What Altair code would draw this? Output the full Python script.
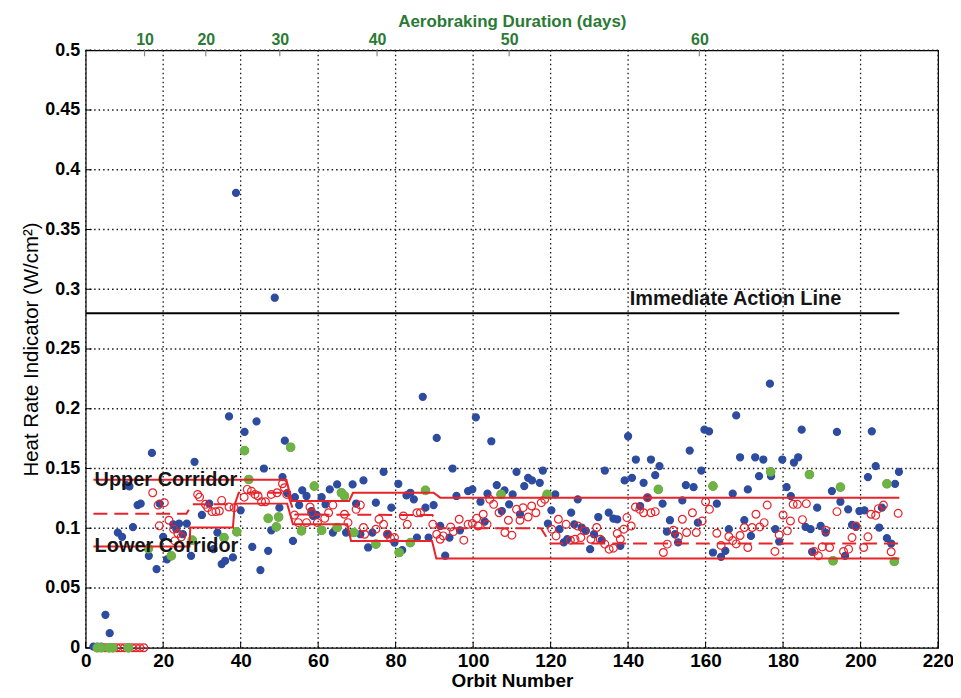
import altair as alt
import pandas as pd

# ---------------- data ----------------
series_names = ["S/C Measured (using 39s mean)",
                "AADS Predicted (Before Maneuver)",
                "Maneuver Commanded"]

measured = [
    (2, 0.001), (3, 0.001), (4, 0.001), (5.1, 0.0275), (6.2, 0.0122), (8.3, 0.0964), (9.4, 0.0928),
    (10.5, 0.136), (11.3, 0.135), (12.2, 0.101), (13.4, 0.1194), (14.2, 0.1206), (16.3, 0.0769),
    (17.1, 0.163), (18.3, 0.0658), (19.1, 0.1206), (20.0, 0.0928), (21.0, 0.074), (22.6, 0.1033),
    (23.4, 0.0992), (24.1, 0.1039), (25.1, 0.095), (26.1, 0.1039), (27.2, 0.0769), (28.1, 0.1556),
    (30.0, 0.1111), (31.9, 0.1206), (33.0, 0.0825), (34.0, 0.0964), (35.1, 0.07), (36.0, 0.0728),
    (37.0, 0.1936), (38.0, 0.0756), (38.8, 0.3807), (40.0, 0.115), (41.0, 0.1806), (43.0, 0.0844),
    (44.1, 0.1894), (45.1, 0.065), (46.0, 0.15), (47.1, 0.0811), (47.9, 0.0983), (48.8, 0.2929),
    (50.0, 0.1172), (50.8, 0.1428), (51.4, 0.1733), (52.0, 0.1294), (53.5, 0.0894), (54.0, 0.126),
    (55.1, 0.1194), (55.9, 0.1317), (57.0, 0.127), (58.3, 0.1144), (58.7, 0.1103), (59.6, 0.1111),
    (60.9, 0.126), (61.9, 0.12), (63.0, 0.1325), (63.8, 0.0964), (64.9, 0.1367), (67.2, 0.0964),
    (68.9, 0.1367), (69.8, 0.1206), (70.9, 0.095), (71.7, 0.14), (72.9, 0.0839), (74.0, 0.0964),
    (74.9, 0.1214), (76.9, 0.1472), (77.9, 0.095), (78.9, 0.1172), (79.7, 0.088), (80.7, 0.1372),
    (81.7, 0.0817), (82.8, 0.1275), (83.8, 0.1297), (84.7, 0.1242), (85.5, 0.0922), (87.0, 0.21),
    (87.7, 0.1172), (88.5, 0.0922), (89.8, 0.1194), (90.6, 0.1756), (91.5, 0.1019), (92.8, 0.077),
    (93.9, 0.0922), (94.7, 0.15), (95.7, 0.127), (96.6, 0.0983), (98.7, 0.1311), (99.8, 0.1325),
    (100.7, 0.1928), (101.9, 0.1222), (103.0, 0.1056), (103.7, 0.1289), (104.7, 0.1728),
    (106.1, 0.1361), (107.4, 0.1144), (108.1, 0.1317), (109.3, 0.12), (110.2, 0.1283),
    (111.2, 0.1472), (112.1, 0.1117), (113.2, 0.1353), (114.2, 0.1422), (115.2, 0.14),
    (117.2, 0.138), (118.0, 0.1483), (119.3, 0.1039), (120.2, 0.115), (121.2, 0.1283),
    (122.3, 0.0992), (123.4, 0.0881), (124.3, 0.0908), (125.3, 0.113), (126.1, 0.1033),
    (127.0, 0.1242), (128.0, 0.1006), (129.1, 0.0978), (130.2, 0.0825), (131.2, 0.095),
    (132.3, 0.1094), (133.2, 0.09), (134.0, 0.1483), (135.0, 0.113), (136.2, 0.1081),
    (137.2, 0.1075), (138.0, 0.0853), (139.1, 0.14), (140.0, 0.177), (141.0, 0.1422),
    (142.0, 0.1575), (143.1, 0.1186), (144.0, 0.138), (145.0, 0.1256), (145.9, 0.1575),
    (147.0, 0.1444), (148.1, 0.152), (148.9, 0.1206), (150.0, 0.0972), (150.8, 0.1067),
    (152.1, 0.095), (152.9, 0.0881), (154.0, 0.1233), (154.9, 0.1361), (155.9, 0.165),
    (156.9, 0.1344), (158.0, 0.1047), (158.9, 0.1483), (159.7, 0.1825), (160.9, 0.1811),
    (161.9, 0.0797), (162.9, 0.1206), (164.0, 0.0761), (165.1, 0.0811), (166.0, 0.0992),
    (167.0, 0.1289), (167.9, 0.1944), (168.9, 0.1594), (170.0, 0.1067), (170.9, 0.1325),
    (171.7, 0.0936), (172.8, 0.1594), (173.8, 0.1436), (174.9, 0.1575), (176.6, 0.221),
    (176.9, 0.1436), (178.0, 0.0992), (179.0, 0.0889), (179.8, 0.1575), (180.9, 0.1344),
    (182.0, 0.1269), (182.8, 0.155), (183.9, 0.1594), (184.8, 0.1825), (185.8, 0.1011),
    (187.1, 0.0992), (187.5, 0.0803), (188.8, 0.1172), (189.7, 0.1019), (191.0, 0.0964),
    (192.6, 0.1311), (193.9, 0.1806), (194.8, 0.1222), (196.0, 0.0769), (196.8, 0.1158),
    (197.8, 0.1028), (198.8, 0.1011), (199.7, 0.1144), (201.0, 0.115), (201.9, 0.1428),
    (202.9, 0.1811), (203.9, 0.152), (204.8, 0.1006), (205.5, 0.1172), (206.8, 0.0917),
    (207.9, 0.0872), (208.9, 0.1372), (209.9, 0.1472),
]

predicted = [
    (5, 0), (6, 0), (7, 0), (8, 0), (9, 0), (10, 0), (11, 0), (12, 0), (13, 0), (14, 0), (15, 0),
    (17.3, 0.1297), (18.7, 0.1194), (19.0, 0.102), (20.3, 0.1214), (21.5, 0.1067), (22.7, 0.0992),
    (23.0, 0.0894), (23.8, 0.0956), (24.7, 0.0928), (28.9, 0.1283), (29.4, 0.1261), (30.9, 0.12),
    (31.5, 0.1172), (32.6, 0.1139), (33.6, 0.1139), (34.5, 0.1144), (35.1, 0.1233), (37.0, 0.1178),
    (38.3, 0.1172), (40.9, 0.126), (41.7, 0.1325), (42.8, 0.131), (43.7, 0.1283), (44.5, 0.127),
    (45.4, 0.1222), (46.4, 0.1222), (47.9, 0.1283), (49.4, 0.1297), (50.8, 0.1372), (51.3, 0.1339),
    (51.9, 0.1283), (53.9, 0.111), (54.9, 0.1047), (57.0, 0.1047), (57.9, 0.1178), (58.3, 0.113),
    (59.8, 0.1047), (61.7, 0.1083), (62.7, 0.113), (63.8, 0.1194), (66.8, 0.1117), (67.7, 0.1047),
    (69.8, 0.1158), (70.9, 0.1194), (71.7, 0.1006), (72.0, 0.095), (74.9, 0.0992), (75.7, 0.1075),
    (76.9, 0.1033), (77.9, 0.095), (78.7, 0.0917), (79.7, 0.0922), (82.0, 0.1103), (83.0, 0.1033),
    (85.5, 0.113), (86.4, 0.113), (89.6, 0.1033), (90.6, 0.095), (91.5, 0.0908), (92.3, 0.0936),
    (94.2, 0.1011), (94.9, 0.0972), (96.4, 0.1075), (97.6, 0.09), (98.7, 0.1033), (99.8, 0.1039),
    (100.9, 0.1083), (101.3, 0.1019), (102.6, 0.1117), (103.6, 0.1033), (104.3, 0.1242),
    (105.3, 0.12), (106.7, 0.113), (108.2, 0.0964), (109.1, 0.1067), (110.0, 0.0942),
    (111.2, 0.1158), (112.1, 0.1067), (112.9, 0.1172), (114.2, 0.1094), (115.1, 0.1186),
    (116.2, 0.113), (117.6, 0.1214), (118.5, 0.1242), (120.3, 0.0992), (121.4, 0.0936),
    (122.0, 0.1075), (124.0, 0.1033), (125.1, 0.09), (126.3, 0.0908), (127.0, 0.1019),
    (127.8, 0.0922), (128.7, 0.0978), (130.4, 0.0908), (131.9, 0.1006), (132.8, 0.0908),
    (134.0, 0.0867), (135.1, 0.0825), (136.2, 0.0833), (137.2, 0.0956), (138.0, 0.0908),
    (138.9, 0.0992), (139.7, 0.1089), (140.8, 0.1019), (141.9, 0.1178), (143.0, 0.1158),
    (144.0, 0.113), (145.0, 0.1256), (145.9, 0.113), (147.0, 0.1139), (149.1, 0.0797),
    (150.1, 0.0867), (151.7, 0.0983), (153.0, 0.0928), (154.0, 0.1075), (155.1, 0.0964),
    (156.6, 0.113), (157.6, 0.0964), (159.1, 0.1061), (160.0, 0.1222), (161.0, 0.1158),
    (162.9, 0.0958), (164.0, 0.0856), (166.0, 0.0931), (167.0, 0.0897), (167.9, 0.0869),
    (168.9, 0.0939), (170.0, 0.1006), (170.9, 0.0839), (172.0, 0.1006), (173.0, 0.1117),
    (174.0, 0.1011), (175.1, 0.1047), (175.9, 0.1194), (177.9, 0.0806), (179.0, 0.0944),
    (180.0, 0.1111), (181.1, 0.0978), (181.9, 0.1061), (182.6, 0.12), (183.7, 0.12),
    (185.0, 0.1072), (186.0, 0.1206), (188.0, 0.0806), (189.1, 0.0769), (190.1, 0.0844),
    (191.0, 0.0983), (192.0, 0.0839), (193.9, 0.1139), (195.6, 0.0806), (196.9, 0.0825),
    (197.8, 0.0922), (198.8, 0.1019), (200.8, 0.0839), (201.9, 0.0928), (202.7, 0.1117),
    (203.9, 0.1108), (204.6, 0.1164), (205.9, 0.1194), (207.9, 0.0803), (209.7, 0.1125),
]

maneuver = [
    (3, 0), (4, 0), (6, 0), (7, 0), (11, 0), (16.2, 0.083), (22.1, 0.0769), (27.5, 0.09),
    (35.7, 0.0922), (39.0, 0.097), (41.0, 0.165), (42.1, 0.1408), (47.1, 0.1083), (49.2, 0.1011),
    (49.8, 0.1094), (52.9, 0.1678), (55.7, 0.0978), (59.0, 0.1353), (60.9, 0.0983), (64.9, 0.1006),
    (66.0, 0.1297), (66.8, 0.127), (69.2, 0.0964), (74.9, 0.0867), (80.9, 0.0797), (83.8, 0.088),
    (87.7, 0.1317), (107.2, 0.1283), (119.1, 0.1283), (147.8, 0.1325), (161.9, 0.1353),
    (176.8, 0.1472), (186.8, 0.145), (192.9, 0.0728), (194.8, 0.1344), (206.8, 0.1372),
    (208.7, 0.0722),
]

upper_orbit = [2, 51.8, 53.2, 68, 69, 89.8, 91.5, 210]
upper_hri = [0.1406, 0.1406, 0.1228, 0.1228, 0.1297, 0.1297, 0.1256, 0.1256]
lower_orbit = [2, 26.8, 27, 38, 38.5, 52, 53.5, 67.5, 68.5, 89.4, 90.5, 210]
lower_hri = [0.0847, 0.0847, 0.1006, 0.1006, 0.1206, 0.1206, 0.1033, 0.1033,
             0.0894, 0.0894, 0.0747, 0.0747]
target_orbit = [2, 26, 27.5, 38.5, 39.5, 52, 54, 89.5, 91, 117.5, 120, 210]
target_hri = [0.1122, 0.1122, 0.12, 0.12, 0.1297, 0.1297, 0.1115, 0.111,
              0.1, 0.1, 0.0872, 0.0872]
action_orbit = [0, 210]
action_hri = [0.28, 0.28]

note_text = ["Upper Corridor", "Lower Corridor", "Immediate Action Line"]
note_orbit = [2.3, 2.3, 140.4]
note_hri = [0.1406, 0.0847, 0.2915]

x_ticks = [0, 20, 40, 60, 80, 100, 120, 140, 160, 180, 200, 220]
y_ticks = [0, 0.05, 0.1, 0.15, 0.2, 0.25, 0.3, 0.35, 0.4, 0.45, 0.5]
day_labels = ["10", "20", "30", "40", "50", "60"]
day_orbits = [15.2, 31.0, 50.1, 75.2, 109.3, 158.4]

# ---------------- styling ----------------
BLUE = "#2d4b9f"
RED = "#e8232a"
GREEN = "#6cb445"
DKGREEN = "#2b7a35"
FONT = "Liberation Sans, Arial, Helvetica, sans-serif"
NARROW = "Liberation Sans Narrow, Liberation Sans, Arial, sans-serif"
PLOT_W, PLOT_H, TICK = 856, 600, 6

rows = []
for o, v in measured:
    rows.append({"orbit": o, "hri": v, "series": series_names[0]})
for o, v in predicted + maneuver:
    rows.append({"orbit": o, "hri": v, "series": series_names[1]})
for o, v in maneuver:
    rows.append({"orbit": o, "hri": v, "series": series_names[2]})
pts = pd.DataFrame(rows)

xscale = alt.Scale(domain=[0, 220], nice=False, zero=False)
yscale = alt.Scale(domain=[0, 0.5], nice=False)
X_NOAXIS = alt.X("orbit:Q", scale=xscale, axis=None)
Y_NOAXIS = alt.Y("hri:Q", scale=yscale, axis=None)

# dotted grid drawn from the tick lists
grid_dash = [1.5, 3]
xgrid = alt.Chart(pd.DataFrame({"orbit": x_ticks})).mark_rule(
    color="#1a1a1a", strokeDash=grid_dash, strokeWidth=1.3, opacity=1
).encode(x=X_NOAXIS)
ygrid = alt.Chart(pd.DataFrame({"hri": y_ticks})).mark_rule(
    color="#1a1a1a", strokeDash=grid_dash, strokeWidth=1.3, opacity=1
).encode(y=Y_NOAXIS)

# inward tick marks (MATLAB style)
xtick_marks = alt.Chart(pd.DataFrame({"orbit": x_ticks})).mark_rule(
    color="black", strokeWidth=1
).encode(x=X_NOAXIS, y=alt.value(PLOT_H), y2=alt.value(PLOT_H - TICK))
ytick_marks = alt.Chart(pd.DataFrame({"hri": y_ticks})).mark_rule(
    color="black", strokeWidth=1
).encode(y=Y_NOAXIS, x=alt.value(0), x2=alt.value(TICK))
day_tick_marks = alt.Chart(pd.DataFrame({"orbit": day_orbits})).mark_rule(
    color="#8a8a8a", strokeWidth=1.2
).encode(x=X_NOAXIS, y=alt.value(0), y2=alt.value(TICK))

# axes layer (bottom x and left y)
axes_df = pd.DataFrame({"orbit": [0, 220], "hri": [0, 0.5]})
axes = alt.Chart(axes_df).mark_point(opacity=0, size=1).encode(
    x=alt.X("orbit:Q", scale=xscale,
            axis=alt.Axis(orient="bottom", values=x_ticks, title="Orbit Number", grid=False,
                          ticks=False, labelFlush=False, labelFont=NARROW, labelFontSize=19,
                          labelFontWeight="bold", labelPadding=4, labelColor="black",
                          titleFont=FONT, titleFontSize=19, titleFontWeight="bold",
                          titleColor="black", titlePadding=1, domain=False)),
    y=alt.Y("hri:Q", scale=yscale,
            axis=alt.Axis(orient="left", values=y_ticks, labelExpr="toString(datum.value)",
                          title="Heat Rate Indicator (W/cm²)", grid=False, ticks=False,
                          labelFlush=False, labelFont=FONT, labelFontSize=18,
                          labelFontWeight="bold", labelPadding=6, labelColor="black",
                          titleFont=NARROW, titleFontSize=20.5, titleFontWeight="normal",
                          titleColor="black", titlePadding=3, domain=False)),
)

legend_kw = dict(orient="none", legendX=457, legendY=8, padding=6, rowPadding=3,
                 labelFontSize=20.5, labelFont=FONT, labelFontWeight="bold", labelLimit=420,
                 labelOffset=20, symbolSize=36, symbolStrokeWidth=1.2, strokeColor="black",
                 fillColor="white", symbolType="circle", labelColor="black")

points = alt.Chart(pts).mark_point(filled=True, shape="circle", strokeWidth=1.2,
                                   opacity=1).encode(
    x=X_NOAXIS,
    y=Y_NOAXIS,
    fill=alt.Fill("series:N", title=None,
                  scale=alt.Scale(domain=series_names, range=[BLUE, "transparent", GREEN]),
                  legend=alt.Legend(**legend_kw)),
    stroke=alt.Stroke("series:N", title=None,
                      scale=alt.Scale(domain=series_names, range=[BLUE, RED, GREEN]),
                      legend=alt.Legend(**legend_kw)),
    size=alt.Size("series:N", scale=alt.Scale(domain=series_names, range=[50, 72, 50]),
                  legend=None),
)


def step_line(xs, ys, color, dash=None, width=2.0):
    df = pd.DataFrame({"orbit": xs, "hri": ys, "i": list(range(len(xs)))})
    kw = dict(color=color, strokeWidth=width)
    if dash:
        kw["strokeDash"] = dash
    return alt.Chart(df).mark_line(**kw).encode(
        x=X_NOAXIS, y=Y_NOAXIS, order=alt.Order("i:Q"),
    )


upper = step_line(upper_orbit, upper_hri, RED)
lower = step_line(lower_orbit, lower_hri, RED)
target = step_line(target_orbit, target_hri, RED, dash=[14, 7])

label_expr = "[" + ",".join("'%s'" % d for d in day_labels) + "][indexof([" + \
    ",".join(str(o) for o in day_orbits) + "], datum.value)]"

action_df = pd.DataFrame({"orbit": action_orbit, "hri": action_hri,
                          "i": list(range(len(action_orbit)))})
action = alt.Chart(action_df).mark_line(color="black", strokeWidth=2).encode(
    x=alt.X("orbit:Q", scale=xscale,
            axis=alt.Axis(orient="top", values=day_orbits, labelExpr=label_expr,
                          title="Aerobraking Duration (days)", grid=False, ticks=False,
                          domain=False, labelFlush=False,
                          labelFont=FONT, labelFontSize=16, labelFontWeight="bold",
                          labelColor=DKGREEN, labelPadding=3, titleFont=FONT,
                          titleFontSize=17, titleFontWeight="bold", titleColor=DKGREEN,
                          titlePadding=1)),
    y=Y_NOAXIS,
    order=alt.Order("i:Q"),
)

notes_df = pd.DataFrame({"orbit": note_orbit, "hri": note_hri, "text": note_text})
notes = alt.Chart(notes_df).mark_text(align="left", baseline="middle", font=FONT,
                                      fontSize=20, fontWeight="bold", color="#151515").encode(
    x=X_NOAXIS, y=Y_NOAXIS, text="text:N",
)

chart = alt.layer(axes, xgrid, ygrid, xtick_marks, ytick_marks, day_tick_marks,
                  points, upper, lower, target, action, notes).resolve_axis(
    x="independent", y="independent"
).properties(
    width=PLOT_W, height=PLOT_H,
    autosize=alt.AutoSizeParams(type="none"),
    padding={"left": 78, "top": 41, "right": 15, "bottom": 41},
    background="white",
).configure_view(
    stroke="black", strokeWidth=1.2
)

chart.save("out.html", embed_options={"renderer": "svg", "actions": False})
